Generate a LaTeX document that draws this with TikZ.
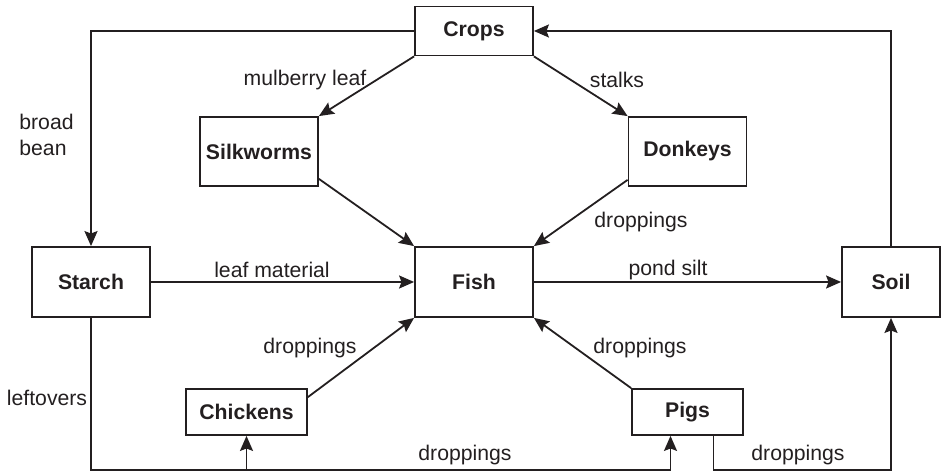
\documentclass[tikz,border=0pt]{standalone}
\usepackage{fontspec}
\setmainfont{Liberation Sans}
\usetikzlibrary{arrows.meta}
\definecolor{ink}{HTML}{231F20}

\begin{document}
\begin{tikzpicture}[x=0.5pt, y=-0.5pt, >={Stealth[length=7.5pt,width=6.5pt,inset=1.2pt]},
    every node/.style={font=\fontsize{10.6}{12.8}\selectfont, text=ink},
    box/.style={draw=ink, line width=0.9pt, inner sep=0pt, font=\fontsize{10.6}{12.8}\selectfont\bfseries},
    flow/.style={->, draw=ink, line width=0.9pt}]
    \useasboundingbox (0,0) rectangle (942,474);

    \node[box, minimum width=59pt, minimum height=24.5pt] (crops) at (474,31) {Crops};
    \node[box, minimum width=59pt, minimum height=34.5pt] (silk) at (259,151.5) {Silkworms};
    \node[box, minimum width=59pt, minimum height=34.5pt] (donkeys) at (687.5,151.5) {Donkeys};
    \node[box, minimum width=59pt, minimum height=35pt] (starch) at (91,282) {Starch};
    \node[box, minimum width=59pt, minimum height=35pt] (fish) at (474,282) {Fish};
    \node[box, minimum width=49pt, minimum height=35pt] (soil) at (891,282) {Soil};
    \node[box, minimum width=60.5pt, minimum height=23pt] (chickens) at (246.5,412) {Chickens};
    \node[box, minimum width=55.5pt, minimum height=23pt] (pigs) at (687.5,412) {Pigs};

    \coordinate (sw) at (91,470);
    \coordinate (se) at (891,470);

    \draw[flow] (crops.west) -| (starch.north);
    \draw[flow] (soil.north) |- (crops.east);
    \draw[flow] (crops.south west) -- (silk.north east);
    \draw[flow] (crops.south east) -- (donkeys.north west);
    \draw[flow] ([yshift=4pt]silk.south east) -- (fish.north west);
    \draw[flow] ([yshift=3.5pt]donkeys.south west) -- (fish.north east);
    \draw[flow] (starch.east) -- (fish.west);
    \draw[flow] (fish.east) -- (soil.west);
    \draw[flow] ([yshift=-4.5pt]chickens.north east) -- (fish.south west);
    \draw[flow] (pigs.north west) -- (fish.south east);
    \draw[flow] (starch.south) -- (sw) -| ([xshift=-8.5pt]pigs.south);
    \draw[flow] (sw) -| (chickens.south);
    \draw[flow] ([xshift=13pt]pigs.south) |- (se) -- (soil.south);

    \node (lmul) at (305,80) {mulberry leaf};
    \node (lstalks) at (617,80) {stalks};
    \node[anchor=west, align=left, inner sep=0pt] (lbean) at (19,135) {broad\\bean};
    \node (ldonk) at (641,222) {droppings};
    \node (lleaf) at (272,270) {leaf material};
    \node (lsilt) at (668,270) {pond silt};
    \node (lchick) at (310,348) {droppings};
    \node (lpigs) at (640,348) {droppings};
    \node (lleft) at (47,398) {leftovers};
    \node (lbot) at (465,455) {droppings};
    \node (lsoil) at (798,455) {droppings};
\end{tikzpicture}
\end{document}
